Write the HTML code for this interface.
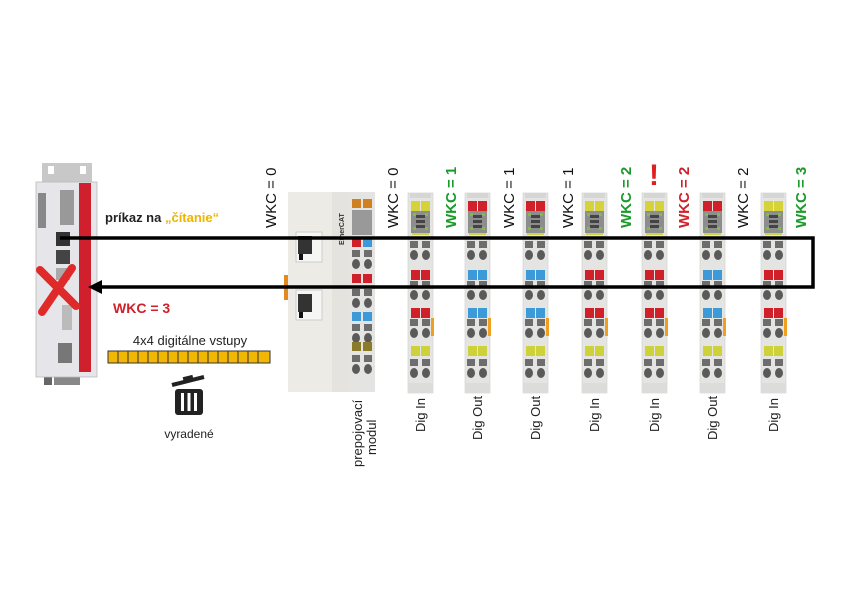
<!DOCTYPE html>
<html><head><meta charset="utf-8"><style>
html,body{margin:0;padding:0;background:#fff;}
svg{display:block;font-family:"Liberation Sans",sans-serif;}
</style></head><body>
<svg width="850" height="608" viewBox="0 0 850 608" xmlns="http://www.w3.org/2000/svg">
<defs>
<g id="contacts">
  <rect x="2" y="0" width="8" height="7" fill="#6d6d6d"/><rect x="14" y="0" width="8" height="7" fill="#6d6d6d"/>
  <ellipse cx="6" cy="14" rx="4" ry="5" fill="#5a5a5a"/><ellipse cx="18" cy="14" rx="4" ry="5" fill="#5a5a5a"/>
</g>
<g id="term">
  <rect x="0" y="0" width="25" height="200" fill="#e4e4e2" stroke="#cfcfcc" stroke-width="0.6"/>
  <rect x="2" y="0" width="21" height="5" fill="#d6d6d4"/>
  <rect x="4" y="37" width="17" height="5" fill="#cdd64a"/>
  <rect x="3" y="18" width="19" height="22" fill="#8d8d8d"/>
  <rect x="5" y="20" width="3" height="3" fill="#7bc043"/><rect x="17" y="20" width="3" height="3" fill="#7bc043"/>
  <rect x="5" y="34" width="3" height="3" fill="#7bc043"/><rect x="17" y="34" width="3" height="3" fill="#7bc043"/>
  <rect x="8" y="22" width="9" height="3" fill="#444"/><rect x="8" y="27" width="9" height="3" fill="#444"/><rect x="8" y="32" width="9" height="3" fill="#444"/>
  <use href="#contacts" x="0" y="48"/>
  <use href="#contacts" x="0" y="88"/>
  <use href="#contacts" x="0" y="126"/>
  <use href="#contacts" x="0" y="166"/>
  <rect x="3" y="153" width="9" height="10" fill="#cdd23a"/><rect x="13" y="153" width="9" height="10" fill="#cdd23a"/>
  <rect x="23" y="125" width="3" height="18" fill="#f0a020"/>
  <rect x="0" y="190" width="25" height="10" fill="#dcdcda"/>
</g>
<g id="tin"><use href="#term"/>
  <rect x="3" y="8" width="9" height="10" fill="#d6d23a"/><rect x="13" y="8" width="9" height="10" fill="#d6d23a"/>
  <rect x="3" y="77" width="9" height="10" fill="#d0202a"/><rect x="13" y="77" width="9" height="10" fill="#d0202a"/>
  <rect x="3" y="115" width="9" height="10" fill="#d0202a"/><rect x="13" y="115" width="9" height="10" fill="#d0202a"/>
</g>
<g id="tout"><use href="#term"/>
  <rect x="3" y="8" width="9" height="10" fill="#d0202a"/><rect x="13" y="8" width="9" height="10" fill="#d0202a"/>
  <rect x="3" y="77" width="9" height="10" fill="#3c9ad8"/><rect x="13" y="77" width="9" height="10" fill="#3c9ad8"/>
  <rect x="3" y="115" width="9" height="10" fill="#3c9ad8"/><rect x="13" y="115" width="9" height="10" fill="#3c9ad8"/>
</g>
</defs>

<!-- PLC -->
<rect x="42" y="163" width="50" height="20" fill="#c8c8c8"/>
<rect x="48" y="166" width="6" height="8" fill="#fff"/><rect x="80" y="166" width="6" height="8" fill="#fff"/>
<rect x="44" y="375" width="8" height="10" fill="#666"/><rect x="54" y="375" width="26" height="10" fill="#888"/>
<rect x="36" y="182" width="61" height="195" fill="#e6e6ea" stroke="#bbb" stroke-width="0.8"/>
<rect x="38" y="193" width="8" height="35" fill="#888"/>
<rect x="60" y="190" width="14" height="35" fill="#999"/>
<rect x="56" y="232" width="14" height="14" fill="#333"/>
<rect x="56" y="250" width="14" height="14" fill="#444"/>
<rect x="56" y="268" width="14" height="12" fill="#aaa"/>
<rect x="62" y="305" width="10" height="25" fill="#bbb"/>
<rect x="58" y="343" width="14" height="20" fill="#777"/>
<rect x="79" y="183" width="12" height="189" fill="#d0202e"/>
<path d="M40 270 L76 306 M72 268 L42 312" stroke="#e02a2a" stroke-width="8" stroke-linecap="round"/>

<!-- Coupler -->
<rect x="284" y="275" width="5" height="25" fill="#e08a20"/>
<rect x="288" y="192" width="44" height="200" fill="#ecebe6"/>
<rect x="332" y="192" width="17" height="200" fill="#e4e3de"/>
<rect x="296" y="232" width="26" height="30" fill="#f6f6f4" stroke="#ccc"/>
<rect x="298" y="236" width="14" height="18" fill="#333"/><rect x="299" y="254" width="4" height="6" fill="#111"/>
<rect x="296" y="290" width="26" height="30" fill="#f6f6f4" stroke="#ccc"/>
<rect x="298" y="294" width="14" height="18" fill="#333"/><rect x="299" y="312" width="4" height="6" fill="#111"/>
<text transform="translate(344,245) rotate(-90)" font-size="7" font-weight="bold" fill="#333">EtherCAT</text>
<g transform="translate(349,192)">
  <rect x="0" y="0" width="26" height="200" fill="#e4e4e2"/>
  <rect x="3" y="7" width="9" height="9" fill="#d08020"/><rect x="14" y="7" width="9" height="9" fill="#d08020"/>
  <rect x="3" y="18" width="20" height="25" fill="#999"/>
  <rect x="3" y="46" width="9" height="9" fill="#d0202a"/><rect x="14" y="46" width="9" height="9" fill="#3c9ad8"/>
  <use href="#contacts" x="1" y="58"/>
  <rect x="3" y="82" width="9" height="9" fill="#d0202a"/><rect x="14" y="82" width="9" height="9" fill="#d0202a"/>
  <use href="#contacts" x="1" y="97"/>
  <rect x="3" y="120" width="9" height="9" fill="#3c9ad8"/><rect x="14" y="120" width="9" height="9" fill="#3c9ad8"/>
  <use href="#contacts" x="1" y="132"/>
  <rect x="3" y="150" width="9" height="9" fill="#8a7a2a"/><rect x="14" y="150" width="9" height="9" fill="#8a7a2a"/>
  <use href="#contacts" x="1" y="163"/>
</g>

<!-- Terminals -->
<use href="#tin" x="408" y="193"/>
<use href="#tout" x="465" y="193"/>
<use href="#tout" x="523" y="193"/>
<use href="#tin" x="582" y="193"/>
<use href="#tin" x="642" y="193"/>
<use href="#tout" x="700" y="193"/>
<use href="#tin" x="761" y="193"/>

<!-- Lines -->
<path d="M60 238 L813 238 L813 287 L100 287" fill="none" stroke="#000" stroke-width="3.5"/>
<path d="M88 287 L102 280 L102 294 Z" fill="#000"/>

<!-- Texts -->
<text x="105" y="222" font-size="13" font-weight="bold" fill="#222">príkaz na <tspan fill="#f0b400">„čítanie“</tspan></text>
<text x="113" y="313" font-size="14" font-weight="bold" fill="#d0202a">WKC = 3</text>
<text x="190" y="345" font-size="13" text-anchor="middle" fill="#222">4x4 digitálne vstupy</text>
<rect x="108" y="351" width="162" height="12" fill="#f2b705" stroke="#333" stroke-width="1"/>
<g stroke="#333" stroke-width="1">
<path d="M118 351v12M128 351v12M138 351v12M148 351v12M158 351v12M168 351v12M178 351v12M188 351v12M198 351v12M208 351v12M218 351v12M228 351v12M238 351v12M248 351v12M258 351v12"/>
</g>
<!-- trash -->
<path d="M172 385 L204 377" stroke="#222" stroke-width="4"/>
<rect x="183" y="376" width="10" height="4" fill="#222" transform="rotate(-14 188 378)"/>
<rect x="175" y="389" width="28" height="26" rx="3" fill="#222"/>
<rect x="181" y="393" width="3" height="18" fill="#fff"/><rect x="187.5" y="393" width="3" height="18" fill="#fff"/><rect x="194" y="393" width="3" height="18" fill="#fff"/>
<text x="189" y="438" font-size="12" text-anchor="middle" fill="#222">vyradené</text>

<g font-size="15">
<text transform="translate(276,228) rotate(-90)" fill="#111">WKC = 0</text>
<text transform="translate(398,228) rotate(-90)" fill="#111">WKC = 0</text>
<text transform="translate(456,228) rotate(-90)" fill="#1a9a2a" font-weight="bold">WKC = 1</text>
<text transform="translate(514,228) rotate(-90)" fill="#111">WKC = 1</text>
<text transform="translate(573,228) rotate(-90)" fill="#111">WKC = 1</text>
<text transform="translate(631,228) rotate(-90)" fill="#1a9a2a" font-weight="bold">WKC = 2</text>
<text transform="translate(689,228) rotate(-90)" fill="#d0202a" font-weight="bold">WKC = 2</text>
<text transform="translate(748,228) rotate(-90)" fill="#111">WKC = 2</text>
<text transform="translate(806,228) rotate(-90)" fill="#1a9a2a" font-weight="bold">WKC = 3</text>
</g>
<text x="654" y="185" font-size="30" font-weight="bold" text-anchor="middle" fill="#e02020">!</text>

<g font-size="13" fill="#222">
<text transform="translate(362,467) rotate(-90)">prepojovací</text>
<text transform="translate(376,455) rotate(-90)">modul</text>
<text transform="translate(425,432) rotate(-90)">Dig In</text>
<text transform="translate(482,440) rotate(-90)">Dig Out</text>
<text transform="translate(540,440) rotate(-90)">Dig Out</text>
<text transform="translate(599,432) rotate(-90)">Dig In</text>
<text transform="translate(659,432) rotate(-90)">Dig In</text>
<text transform="translate(717,440) rotate(-90)">Dig Out</text>
<text transform="translate(778,432) rotate(-90)">Dig In</text>
</g>
</svg>
</body></html>
